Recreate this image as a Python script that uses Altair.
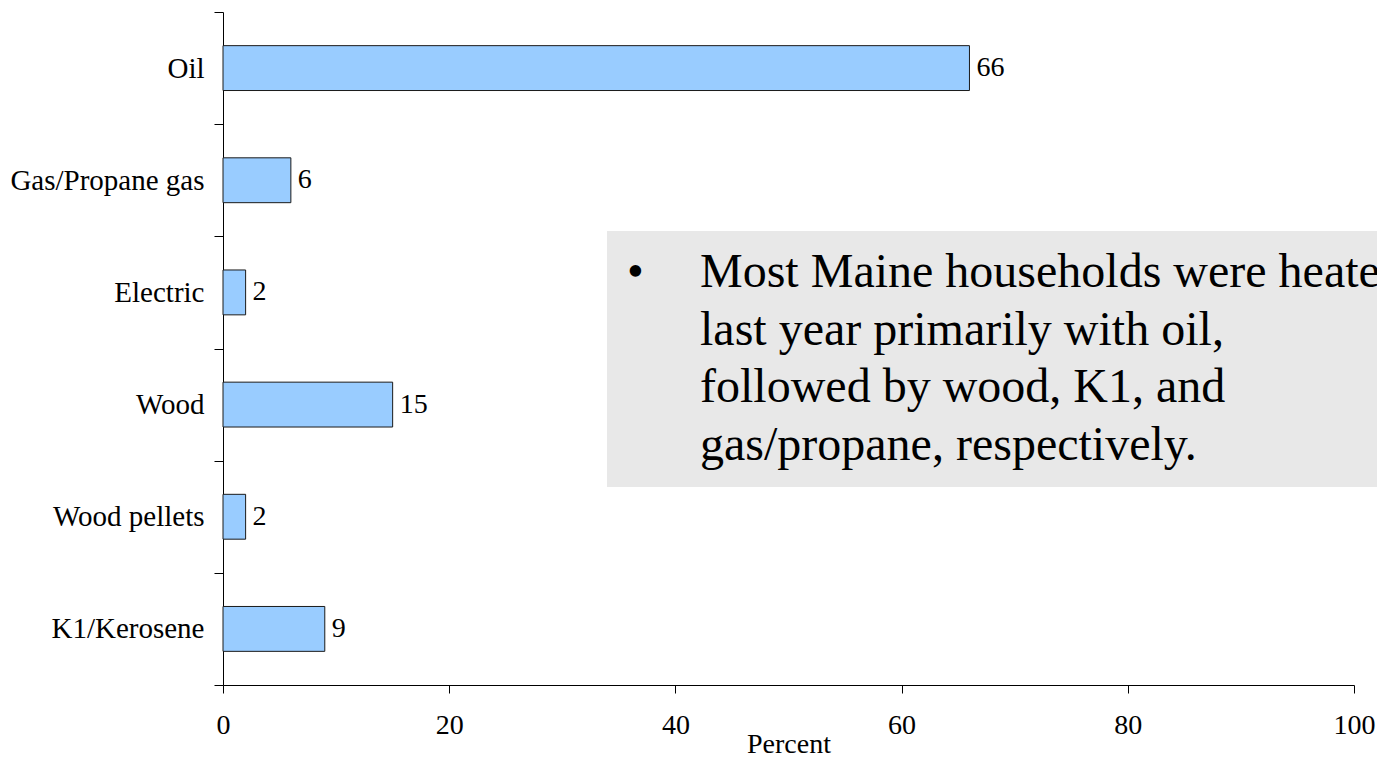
import altair as alt
import pandas as pd

categories = ["Oil", "Gas/Propane gas", "Electric", "Wood", "Wood pellets", "K1/Kerosene"]
values = [66, 6, 2, 15, 2, 9]
x_ticks = [0, 20, 40, 60, 80, 100]
note_lines = [
    "Most Maine households were heated",
    "last year primarily with oil,",
    "followed by wood, K1, and",
    "gas/propane, respectively.",
]

df = pd.DataFrame({"source": categories, "pct": values})

FONT = "Liberation Serif"

x_enc = alt.X(
    "pct:Q",
    scale=alt.Scale(domain=[0, 100], nice=False),
    axis=alt.Axis(
        values=x_ticks, format="d", grid=False, title="Percent",
        labelFontSize=28, labelFont=FONT, labelColor="black",
        labelPadding=18, labelFlush=False, tickSize=8, tickColor="black",
        domainColor="black", titleFont=FONT, titleFontSize=28,
        titleFontWeight="normal", titleColor="black",
        titleY=67, titleBaseline="alphabetic",
    ),
)
y_enc = alt.Y(
    "source:N", sort=categories,
    scale=alt.Scale(paddingInner=0, paddingOuter=0),
    axis=alt.Axis(
        title=None, tickBand="extent", labelFontSize=29, labelFont=FONT,
        labelColor="black", labelPadding=10, labelLimit=0, tickSize=9,
        tickColor="black", domainColor="black", grid=False,
    ),
)

bars = alt.Chart(df).mark_bar(
    height={"band": 0.4}, color="#99CCFF", stroke="#1a1a1a", strokeWidth=1
).encode(x=x_enc, y=y_enc)

labels = alt.Chart(df).mark_text(
    align="left", baseline="middle", dx=7, font=FONT, fontSize=28, color="black"
).encode(x="pct:Q", y=alt.Y("source:N", sort=categories), text="pct:Q")

box = alt.Chart(pd.DataFrame({"k": [0]})).mark_rect(color="#E8E8E8").encode(
    x=alt.value(384), x2=alt.value(1200), y=alt.value(219), y2=alt.value(475)
)

bullet = alt.Chart(pd.DataFrame({"t": ["•"]})).mark_text(
    align="left", baseline="alphabetic", font=FONT, fontSize=48, color="black"
).encode(x=alt.value(404), y=alt.value(275), text="t:N")

note = alt.Chart(pd.DataFrame({"k": [0]})).mark_text(
    align="left", baseline="alphabetic", font=FONT, fontSize=48,
    lineHeight=57.5, color="black", text=note_lines
).encode(x=alt.value(477), y=alt.value(275))

chart = alt.layer(bars, labels, box, bullet, note).properties(
    width=1131, height=673,
    autosize=alt.AutoSizeParams(type="none"),
    padding={"left": 215, "top": 4, "right": 23, "bottom": 75},
).configure_view(stroke=None)

chart.save("out.html", embed_options={"renderer": "svg", "actions": False})
